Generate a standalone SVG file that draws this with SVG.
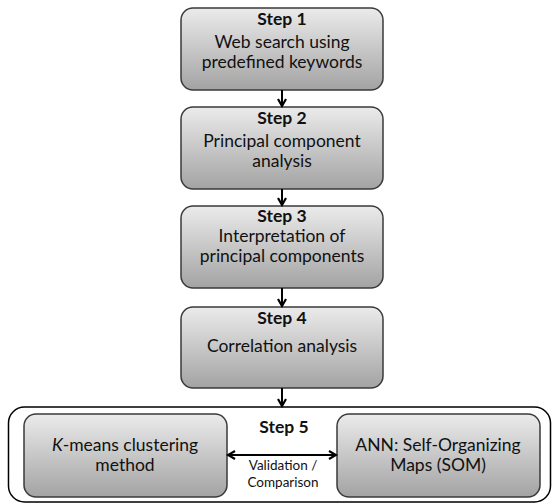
<svg xmlns="http://www.w3.org/2000/svg" width="552" height="504" viewBox="0 0 552 504">
<defs>
<linearGradient id="g" x1="0" y1="0" x2="0" y2="1">
<stop offset="0" stop-color="#ebebeb"/>
<stop offset="1" stop-color="#a3a3a3"/>
</linearGradient>
<marker id="ah" viewBox="0 0 10 10" refX="8" refY="5" markerWidth="10" markerHeight="10" markerUnits="userSpaceOnUse" orient="auto-start-reverse">
<path d="M1,1 L8,5 L1,9" fill="none" stroke="#000" stroke-width="2.2"/>
</marker>
<style>
.box{fill:url(#g);stroke:#3a3a3a;stroke-width:1.5}
.t{font-family:Lato,"Open Sans",sans-serif;font-size:17.5px;fill:#111;text-anchor:middle}
.b{font-weight:bold}
.s{font-size:13.5px}
.c{fill:none;stroke:#000;stroke-width:2}
</style>
</defs>
<g id="step1">
<rect class="box" x="181" y="8" width="202" height="82" rx="12"/>
<text class="t b" x="282" y="25">Step 1</text>
<text class="t" x="282" y="48">Web search using</text>
<text class="t" x="282" y="68">predefined keywords</text>
</g>
<g id="step2">
<rect class="box" x="181" y="107" width="202" height="82" rx="12"/>
<text class="t b" x="282" y="124">Step 2</text>
<text class="t" x="282" y="147">Principal component</text>
<text class="t" x="282" y="167">analysis</text>
</g>
<g id="step3">
<rect class="box" x="181" y="206" width="202" height="82" rx="12"/>
<text class="t b" x="282" y="222">Step 3</text>
<text class="t" x="282" y="242">Interpretation of</text>
<text class="t" x="282" y="262">principal components</text>
</g>
<g id="step4">
<rect class="box" x="181" y="307" width="202" height="81" rx="12"/>
<text class="t b" x="282" y="324">Step 4</text>
<text class="t" x="282" y="352">Correlation analysis</text>
</g>
<g id="step5">
<rect x="8.5" y="407" width="542" height="95" rx="16" fill="#fff" stroke="#000" stroke-width="1.5"/>
<text class="t b" x="284" y="433">Step 5</text>
<text class="t s" x="283" y="470">Validation /</text>
<text class="t s" x="283" y="487">Comparison</text>
</g>
<g id="kmeans">
<rect class="box" x="24" y="414" width="203" height="83" rx="12"/>
<text class="t" x="125" y="451"><tspan font-style="italic">K</tspan>-means clustering</text>
<text class="t" x="125" y="471">method</text>
</g>
<g id="som">
<rect class="box" x="337" y="414" width="203" height="83" rx="12"/>
<text class="t" x="438" y="451">ANN: Self-Organizing</text>
<text class="t" x="438" y="471">Maps (SOM)</text>
</g>
<g id="connectors">
<line class="c" x1="282" y1="90" x2="282" y2="106" marker-end="url(#ah)"/>
<line class="c" x1="282" y1="189" x2="282" y2="205" marker-end="url(#ah)"/>
<line class="c" x1="282" y1="288" x2="282" y2="306" marker-end="url(#ah)"/>
<line class="c" x1="282" y1="388" x2="282" y2="406" marker-end="url(#ah)"/>
<line class="c" x1="228" y1="455" x2="336" y2="455" marker-start="url(#ah)" marker-end="url(#ah)"/>
</g>
</svg>
